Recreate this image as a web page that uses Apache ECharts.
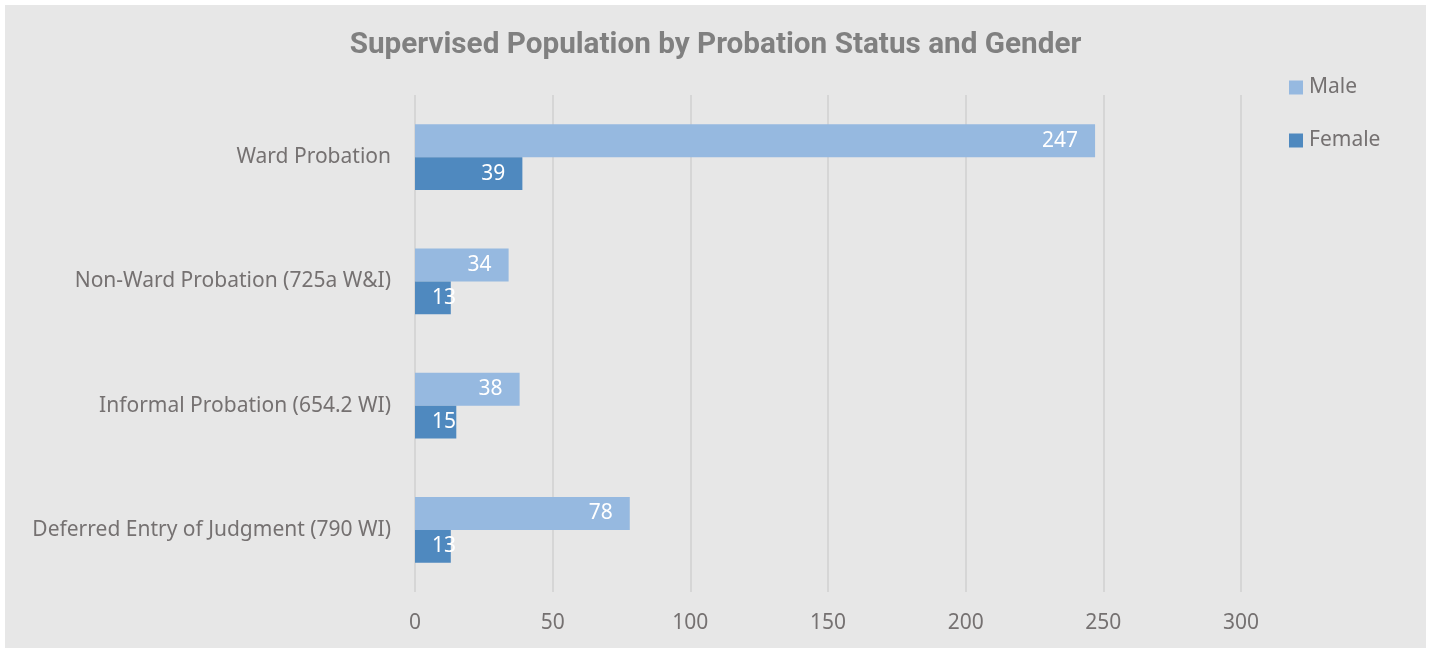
<!DOCTYPE html>
<html>
<head>
<meta charset="utf-8">
<script src="https://cdn.jsdelivr.net/npm/echarts@6/dist/echarts.min.js"></script>
<style>
  html, body { margin: 0; padding: 0; background: #ffffff; }
  #chart { position: absolute; left: 5px; top: 5px; width: 1421px; height: 643px; background: #e7e7e7; }
</style>
</head>
<body>
<div id="chart"></div>
<script>
// Probation categories, listed top to bottom
const categories = [
  'Ward Probation',
  'Non-Ward Probation (725a W&I)',
  'Informal Probation (654.2 WI)',
  'Deferred Entry of Judgment (790 WI)'
];
const maleCounts = [247, 34, 38, 78];
const femaleCounts = [39, 13, 15, 13];
const xTicks = [0, 50, 100, 150, 200, 250, 300];

const FONT = '"Noto Sans", sans-serif';
const TITLE_FONT = 'Roboto, sans-serif';
const TEXT_GREY = '#757171';

const chart = echarts.init(document.getElementById('chart'), null, { renderer: 'canvas' });

// Value labels sit inside the bar end; short bars keep them near the bar base instead
function withLabels(values) {
  return values.map(v => ({
    value: v,
    label: v < 20
      ? { position: 'insideLeft', distance: 17 }
      : { position: 'insideRight', distance: 17 }
  }));
}

const barLabel = {
  show: true,
  color: '#ffffff',
  fontFamily: FONT,
  fontSize: 21
};

chart.setOption({
  backgroundColor: '#e7e7e7',
  animation: false,
  title: {
    text: 'Supervised Population by Probation Status and Gender',
    left: 'center',
    top: 21,
    textStyle: { fontFamily: TITLE_FONT, fontSize: 29.7, fontWeight: 'bold', color: '#808080' }
  },
  legend: {
    orient: 'vertical',
    left: 1279,
    top: 67,
    itemWidth: 14,
    itemHeight: 14,
    itemGap: 32,
    icon: 'rect',
    textStyle: { fontFamily: FONT, fontSize: 21, color: TEXT_GREY, padding: [0, 0, 0, 1] },
    data: ['Male', 'Female']
  },
  grid: { left: 410, right: 185, top: 90, bottom: 56, containLabel: false },
  xAxis: {
    type: 'value',
    min: xTicks[0],
    max: xTicks[xTicks.length - 1],
    interval: xTicks[1] - xTicks[0],
    axisLine: { show: false },
    axisTick: { show: false },
    splitLine: { show: true, lineStyle: { color: '#d6d6d6', width: 2 } },
    axisLabel: { fontFamily: FONT, fontSize: 21, color: TEXT_GREY, margin: 21 }
  },
  yAxis: {
    type: 'category',
    inverse: true,
    data: categories,
    axisLine: { show: false },
    axisTick: { show: false },
    axisLabel: { fontFamily: FONT, fontSize: 21, color: TEXT_GREY, margin: 24 }
  },
  series: [
    {
      name: 'Male',
      type: 'bar',
      data: withLabels(maleCounts),
      itemStyle: { color: '#96b9e0' },
      barGap: '0%',
      barCategoryGap: '47%',
      label: barLabel
    },
    {
      name: 'Female',
      type: 'bar',
      data: withLabels(femaleCounts),
      itemStyle: { color: '#4f89bf' },
      barGap: '0%',
      barCategoryGap: '47%',
      label: barLabel
    }
  ]
});
</script>
</body>
</html>
